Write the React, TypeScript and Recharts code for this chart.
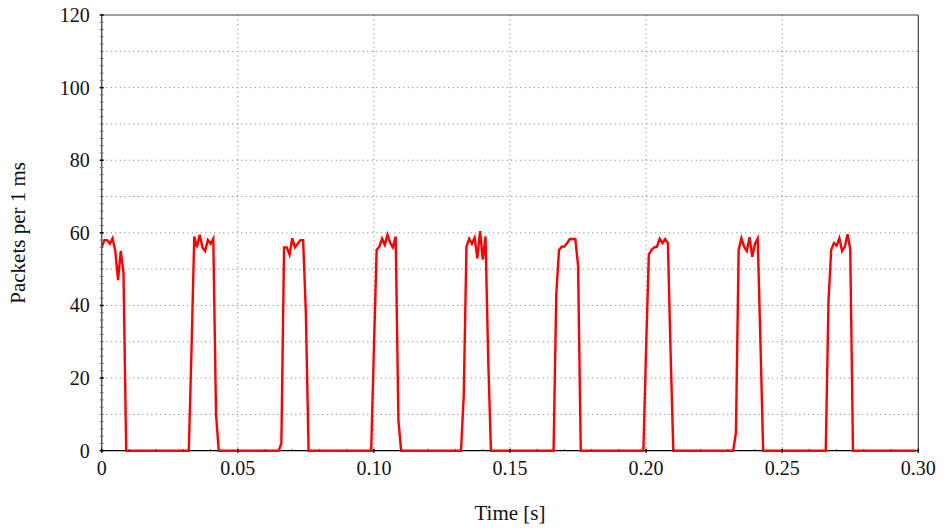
import React from 'react';
import { LineChart, Line, XAxis, YAxis, CartesianGrid, ReferenceLine } from 'recharts';

// Packet counts per 1 ms bin, one array per burst.
const burstStartMs = [0, 32, 65, 99, 132, 166, 199, 232, 266];
const burst1 = [56, 58, 58, 57, 58.5, 55, 47, 55, 49, 0];
const burst2 = [0, 28, 59, 56, 59.5, 56, 55, 58, 57, 58.4, 10, 0];
const burst3 = [0, 2, 56, 56, 54, 58.5, 56, 57, 58, 58, 38, 0];
const burst4 = [0, 28, 55.3, 56.2, 58.4, 56.7, 59.5, 57.2, 56, 59, 8.5, 0];
const burst5 = [0, 15, 56.2, 58.4, 57, 58.7, 53, 60.5, 52.6, 59, 25, 0];
const burst6 = [0, 43, 55.3, 56.2, 56.2, 57.2, 58.3, 58.3, 58.3, 51, 0];
const burst7 = [0, 28, 54, 55.3, 56, 56.2, 58.4, 57.2, 58.3, 57.2, 27, 0];
const burst8 = [0, 5, 55.3, 58.5, 56.2, 55, 58.8, 53.4, 57, 58.4, 30, 0];
const burst9 = [0, 41, 55.3, 57.2, 56.5, 58.5, 55, 56.2, 59.6, 55.5, 0];
const bursts = [burst1, burst2, burst3, burst4, burst5, burst6, burst7, burst8, burst9];
const totalMs = 300;

const xMajorTicks = [0, 0.05, 0.1, 0.15, 0.2, 0.25, 0.3];
const yMajorTicks = [0, 20, 40, 60, 80, 100, 120];
const yGridValues = [10, 20, 30, 40, 50, 60, 70, 80, 90, 100, 110];
const xGridValues = [0.05, 0.1, 0.15, 0.2, 0.25];

const xMinorTicks = Array.from({ length: 31 }, (_, i) => i / 100);
const yMinorTicks = Array.from({ length: 61 }, (_, i) => i * 2);

const data = (() => {
  const vals: number[] = new Array(totalMs).fill(0);
  bursts.forEach((b, k) => {
    b.forEach((v, j) => {
      const idx = burstStartMs[k] + j;
      if (idx < totalMs) vals[idx] = v;
    });
  });
  return vals.map((v, ms) => ({ t: ms / 1000, packets: v }));
})();

const FONT = '"Liberation Serif", "DejaVu Serif", serif';

const isMajor = (list: number[], v: number) => list.some((m) => Math.abs(m - v) < 1e-9);

const fmtX = (v: number) => (Math.abs(v) < 1e-9 ? '0' : v.toFixed(2));

const XTick = (props: any) => {
  const { x, y, payload } = props;
  const v = payload.value as number;
  const major = isMajor(xMajorTicks, v);
  return (
    <g>
      <line x1={x} x2={x} y1={y - (major ? 2 : 1.5)} y2={y + (major ? 2 : 0)} stroke="#000" strokeWidth={major ? 1.5 : 0.8} />
      {major && (
        <text x={x} y={y + 17} textAnchor="middle" dominantBaseline="central" fontFamily={FONT} fontSize={20} fill="#111">
          {fmtX(v)}
        </text>
      )}
    </g>
  );
};

const YTick = (props: any) => {
  const { x, y, payload } = props;
  const v = payload.value as number;
  const major = isMajor(yMajorTicks, v);
  return (
    <g>
      <line x1={x - 2} x2={x + 2} y1={y} y2={y} stroke={major ? '#000' : '#666'} strokeWidth={major ? 1.5 : 0.8} />
      {major && (
        <text x={x - 12} y={y} textAnchor="end" dominantBaseline="central" fontFamily={FONT} fontSize={20} fill="#111">
          {v}
        </text>
      )}
    </g>
  );
};

const XLabel = (props: any) => {
  const vb = props.viewBox || {};
  return (
    <text x={vb.x + vb.width / 2} y={vb.y + 62} textAnchor="middle" dominantBaseline="central" fontFamily={FONT} fontSize={21} fill="#111">
      Time [s]
    </text>
  );
};

const YLabel = (props: any) => {
  const vb = props.viewBox || {};
  const cx = vb.x + 18;
  const cy = vb.y + vb.height / 2;
  return (
    <text x={cx} y={cy} transform={`rotate(-90 ${cx} ${cy})`} textAnchor="middle" dominantBaseline="central" fontFamily={FONT} fontSize={21} fill="#111">
      Packets per 1 ms
    </text>
  );
};

export default function App() {
  return (
    <div style={{ position: 'absolute', left: 0, top: 0, width: 946, height: 531 }}>
      <LineChart width={946} height={531} data={data} margin={{ top: 15, right: 27.7, bottom: 0, left: 0 }}>
        <CartesianGrid
          horizontalValues={yGridValues}
          verticalValues={xGridValues}
          stroke="#8c8c8c"
          strokeDasharray="1.2 3.3"
          strokeWidth={1}
        />
        <XAxis
          dataKey="t"
          type="number"
          domain={[0, 0.3]}
          ticks={xMinorTicks}
          interval={0}
          tickSize={0}
          tickMargin={0}
          tickLine={false}
          tick={<XTick />}
          axisLine={false}
          height={80.3}
          allowDataOverflow
          label={<XLabel />}
        />
        <YAxis
          type="number"
          domain={[0, 120]}
          ticks={yMinorTicks}
          interval={0}
          tickSize={0}
          tickMargin={0}
          tickLine={false}
          tick={<YTick />}
          axisLine={{ stroke: '#555', strokeWidth: 1.5 }}
          width={101.7}
          label={<YLabel />}
        />
        <ReferenceLine y={0} stroke="#000" strokeWidth={1.2} />
        <ReferenceLine y={120} stroke="#444" strokeWidth={1.2} />
        <ReferenceLine x={0.3} stroke="#444" strokeWidth={1.2} />
        <Line
          type="linear"
          dataKey="packets"
          stroke="#ff0000"
          strokeWidth={2.4}
          dot={false}
          activeDot={false}
          isAnimationActive={false}
        />
      </LineChart>
    </div>
  );
}
